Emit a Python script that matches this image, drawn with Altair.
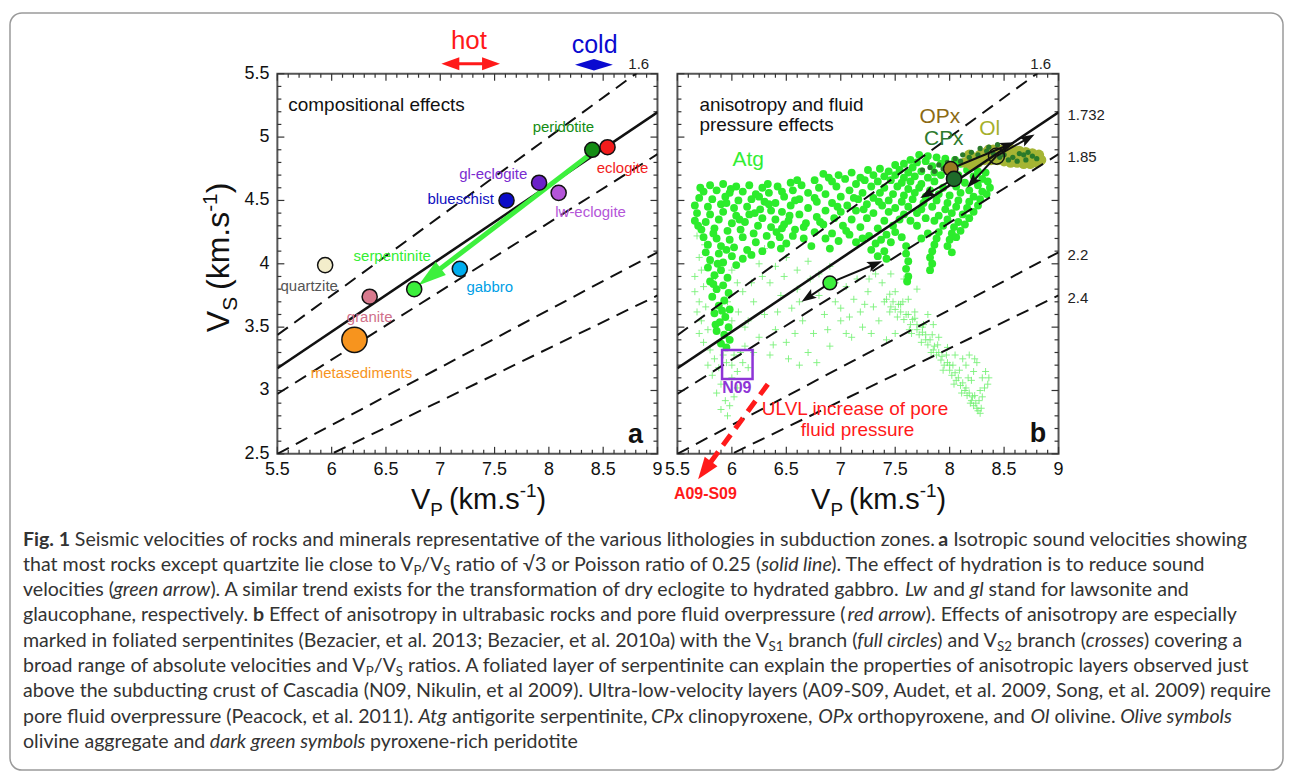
import math
import os
import struct
import altair as alt
import pandas as pd
import numpy as np

# ------------------------------------------------------------------ data
ratios = [1.6, 1.732, 1.85, 2.2, 2.4]
ratio_labels = ["1.6", "1.732", "1.85", "2.2", "2.4"]
ratio_dashed = [True, False, True, True, True]

x_tick_labels = ["5.5", "6", "6.5", "7", "7.5", "8", "8.5", "9"]
y_tick_labels = ["2.5", "3", "3.5", "4", "4.5", "5", "5.5"]

rock_names = ["quartzite", "granite", "metasediments", "serpentinite", "gabbro",
              "blueschist", "gl-eclogite", "lw-eclogite", "peridotite", "eclogite"]
rock_vp = [5.94, 6.35, 6.21, 6.76, 7.18, 7.61, 7.91, 8.09, 8.40, 8.54]
rock_vs = [3.99, 3.74, 3.40, 3.80, 3.96, 4.50, 4.64, 4.56, 4.90, 4.92]

hydration_arrow_vp = [8.36, 6.80]
hydration_arrow_vs = [4.85, 3.83]
hot_range = [7.01, 7.55]
cold_range = [8.24, 8.59]

# panel b : antigorite Vs1 branch (full circles), (Vp, Vs)
atg_vs1_points = [
    # dense upper-right cluster
    (7.72, 4.86), (7.80, 4.85), (7.88, 4.84), (7.64, 4.82), (7.70, 4.80), (7.78, 4.81), (7.96, 4.83),
    (8.05, 4.82), (7.50, 4.78), (7.58, 4.79), (7.66, 4.76), (7.84, 4.77), (7.92, 4.79), (8.10, 4.79),
    (8.20, 4.77), (7.25, 4.74), (7.36, 4.75), (7.44, 4.73), (7.54, 4.74), (7.62, 4.72), (7.74, 4.73),
    (7.86, 4.72), (8.16, 4.74), (8.26, 4.73), (8.33, 4.72), (7.30, 4.70), (7.40, 4.69), (7.50, 4.70),
    (7.58, 4.68), (7.68, 4.69), (7.80, 4.68), (7.92, 4.70), (8.08, 4.70), (8.22, 4.69), (8.30, 4.67),
    (7.22, 4.66), (7.34, 4.65), (7.46, 4.66), (7.56, 4.64), (7.64, 4.65), (7.74, 4.63), (7.86, 4.65),
    (8.02, 4.66), (8.14, 4.64), (8.26, 4.62), (7.28, 4.61), (7.40, 4.60), (7.52, 4.61), (7.62, 4.59),
    (7.72, 4.60), (7.82, 4.58), (7.94, 4.60), (8.06, 4.61), (8.18, 4.58), (8.30, 4.57), (7.36, 4.56),
    (7.48, 4.55), (7.58, 4.54), (7.68, 4.56), (7.78, 4.53), (7.90, 4.55), (8.00, 4.54), (8.10, 4.56),
    (8.22, 4.53), (7.44, 4.50), (7.56, 4.49), (7.66, 4.51), (7.76, 4.48), (7.88, 4.50), (7.98, 4.48),
    (8.08, 4.50), (8.18, 4.49), (8.28, 4.51), (7.50, 4.44), (7.62, 4.45), (7.74, 4.43), (7.84, 4.45),
    (7.96, 4.43), (8.06, 4.45), (8.16, 4.44), (8.26, 4.46), (7.58, 4.39), (7.70, 4.40), (7.90, 4.38),
    (8.02, 4.40), (8.12, 4.39), (8.22, 4.41), (7.64, 4.34), (7.86, 4.34), (7.98, 4.35), (8.08, 4.33),
    (8.18, 4.36), (7.94, 4.30), (8.04, 4.29), (8.14, 4.31), (7.90, 4.25), (8.02, 4.24), (8.10, 4.26),
    (7.88, 4.20), (8.00, 4.19), (8.06, 4.21), (7.86, 4.15), (7.98, 4.14), (7.84, 4.10), (8.02, 4.09),
    (7.82, 4.05), (7.84, 4.00), (7.82, 3.95), (8.35, 4.65), (8.37, 4.60), (8.34, 4.55),
    (7.70, 4.30), (7.78, 4.36), (7.80, 4.24), (7.74, 4.20),
    # middle band
    (6.84, 4.71), (6.98, 4.70), (7.10, 4.72), (7.18, 4.68), (6.76, 4.66), (6.92, 4.65), (7.04, 4.67),
    (7.14, 4.63), (6.64, 4.62), (6.80, 4.60), (6.96, 4.61), (7.08, 4.58), (7.20, 4.56), (6.56, 4.58),
    (6.70, 4.56), (6.86, 4.55), (7.00, 4.53), (7.16, 4.51), (7.30, 4.52), (6.48, 4.53), (6.62, 4.51),
    (6.78, 4.49), (6.92, 4.48), (7.06, 4.46), (7.24, 4.47), (7.38, 4.46), (6.40, 4.48), (6.54, 4.46),
    (6.70, 4.44), (6.86, 4.42), (7.00, 4.41), (7.14, 4.42), (7.30, 4.40), (7.44, 4.41), (6.46, 4.41),
    (6.62, 4.39), (6.78, 4.37), (6.94, 4.36), (7.10, 4.35), (7.24, 4.36), (7.40, 4.34), (7.54, 4.35),
    (6.52, 4.34), (6.68, 4.32), (6.84, 4.31), (7.02, 4.30), (7.18, 4.29), (7.34, 4.28), (7.48, 4.30),
    (6.58, 4.27), (6.76, 4.25), (6.92, 4.24), (7.08, 4.23), (7.26, 4.22), (7.42, 4.23), (7.56, 4.21),
    (6.66, 4.20), (6.98, 4.18), (7.14, 4.17), (7.32, 4.16), (7.46, 4.17), (6.90, 4.12), (7.28, 4.11),
    (7.40, 4.10), (7.60, 4.14), (7.34, 4.06), (7.42, 4.04), (7.60, 4.08), (7.62, 4.02), (7.60, 3.96),
    (7.62, 3.90), (7.61, 3.86),
    (6.60, 4.66), (6.89, 4.68), (6.53, 4.38), (6.81, 4.33), (7.05, 4.26), (6.66, 4.29), (6.97, 4.45),
    (7.21, 4.43), (6.58, 4.50), (7.12, 4.52), (7.35, 4.49), (6.76, 4.52), (6.86, 4.20), (7.20, 4.20),
    (7.50, 4.25), (7.37, 4.19), (6.73, 4.14), (6.45, 4.12),
    # left block
    (5.80, 4.62), (5.92, 4.63), (6.04, 4.61), (6.16, 4.62), (6.28, 4.60), (6.42, 4.61), (6.54, 4.64),
    (5.74, 4.57), (5.86, 4.58), (5.98, 4.56), (6.10, 4.57), (6.22, 4.55), (6.34, 4.56), (6.46, 4.57),
    (5.70, 4.52), (5.82, 4.51), (5.94, 4.53), (6.06, 4.50), (6.18, 4.51), (6.30, 4.49), (5.66, 4.46),
    (5.78, 4.45), (5.90, 4.47), (6.02, 4.44), (6.14, 4.45), (6.26, 4.43), (6.36, 4.42), (5.68, 4.40),
    (5.80, 4.39), (5.92, 4.41), (6.04, 4.38), (6.16, 4.39), (6.28, 4.36), (6.40, 4.35), (5.66, 4.34),
    (5.76, 4.33), (5.88, 4.35), (6.00, 4.32), (6.12, 4.33), (6.24, 4.30), (6.36, 4.29), (6.46, 4.28),
    (5.72, 4.27), (5.84, 4.28), (5.96, 4.26), (6.08, 4.27), (6.20, 4.24), (6.32, 4.22), (6.44, 4.21),
    (6.56, 4.22), (5.74, 4.21), (5.86, 4.20), (5.98, 4.19), (6.10, 4.21), (6.22, 4.17), (6.36, 4.15),
    (6.50, 4.16), (5.78, 4.15), (5.90, 4.14), (6.02, 4.13), (6.14, 4.11), (6.28, 4.10), (5.76, 4.09),
    (5.88, 4.08), (6.00, 4.06), (6.10, 4.04), (5.80, 4.03), (5.92, 4.01), (6.04, 3.99),
    (5.71, 4.60), (6.33, 4.63), (5.95, 4.48), (6.21, 4.40), (5.83, 4.24), (6.41, 4.25), (5.69, 4.30),
    (6.07, 4.35), (6.34, 4.47), (5.99, 4.59), (6.25, 4.53), (6.48, 4.31), (6.18, 4.07), (5.95, 4.11),
    # left column
    (5.78, 3.97), (5.90, 3.95), (5.84, 3.91), (5.96, 3.89), (5.80, 3.86), (5.92, 3.83), (5.86, 3.80),
    (5.97, 3.77), (5.82, 3.74), (5.93, 3.71), (5.88, 3.67), (5.98, 3.64), (5.84, 3.61), (5.94, 3.58),
    (5.89, 3.54), (5.97, 3.50), (5.86, 3.47), (5.93, 3.44), (5.98, 3.40), (5.90, 3.37), (5.95, 3.34),
    (5.87, 4.00), (5.83, 3.84), (5.91, 3.63), (5.85, 3.52),
]

# antigorite Vs2 branch (crosses), (Vp, Vs)
atg_vs2_points = [
    (5.66, 3.78), (5.70, 3.70), (5.74, 3.82), (5.68, 3.62), (5.72, 3.55), (5.76, 3.66), (5.78, 3.48),
    (5.70, 3.45), (5.74, 3.38), (5.80, 3.32), (5.84, 3.25), (5.78, 3.20), (5.82, 3.12), (5.88, 3.18),
    (5.90, 3.05), (5.86, 2.98), (5.94, 2.92), (5.90, 2.85), (5.98, 2.88), (5.96, 2.80), (6.02, 2.95),
    (6.05, 3.02), (6.00, 3.10), (5.95, 3.22), (6.05, 3.15), (6.10, 3.22), (6.15, 3.18), (6.08, 3.30),
    (6.02, 3.28), (5.98, 3.40), (6.12, 3.35), (5.70, 4.05), (5.75, 4.15), (5.68, 4.22), (5.80, 4.00),
    (5.72, 3.95), (5.66, 3.90), (5.85, 3.90), (6.00, 3.95), (6.05, 3.85), (6.10, 3.78), (5.96, 3.70),
    (6.06, 3.62), (6.00, 3.55), (6.12, 3.50), (5.92, 3.28), (6.00, 3.20),
    (6.15, 4.08), (6.25, 4.00), (6.30, 4.12), (6.40, 3.98), (6.50, 4.05), (6.60, 3.95), (6.70, 4.02),
    (6.80, 3.92), (6.90, 3.98), (6.35, 3.85), (6.45, 3.75), (6.20, 3.70), (6.30, 3.60), (6.55, 3.65),
    (6.65, 3.55), (6.40, 3.48), (6.25, 3.42), (6.50, 3.38), (6.75, 3.45), (6.85, 3.60), (6.95, 3.70),
    (6.60, 3.80), (6.20, 3.30), (6.35, 3.28), (6.70, 3.30), (6.90, 3.35), (6.15, 3.55), (6.80, 3.75),
    (7.00, 3.55), (7.05, 3.45),
    (6.28, 3.90), (6.42, 3.62), (6.58, 3.45), (6.62, 3.70), (6.72, 3.88), (6.88, 3.48), (6.95, 3.85),
    (7.08, 3.58), (7.22, 3.68), (7.26, 3.88), (6.18, 3.85), (6.48, 3.90), (6.38, 3.36), (6.62, 3.20),
    (6.78, 3.22), (6.52, 3.25),
    (7.05, 3.82), (7.12, 3.72), (7.18, 3.62), (7.25, 3.78), (7.30, 3.66), (7.35, 3.55), (7.20, 3.50),
    (7.28, 3.45), (7.40, 3.70), (7.45, 3.62), (7.38, 3.85), (7.50, 3.78), (7.55, 3.68), (7.62, 3.72),
    (7.68, 3.62), (7.70, 3.80), (7.58, 3.88), (7.46, 3.92), (7.32, 3.92), (7.15, 3.88), (7.75, 3.50),
    (7.80, 3.60), (7.65, 3.45), (7.50, 3.45), (7.42, 3.40), (7.10, 3.42), (7.00, 3.65), (7.85, 3.52),
    (7.90, 3.42),
    (7.42, 3.72), (7.48, 3.70), (7.50, 3.64), (7.55, 3.62), (7.58, 3.56), (7.60, 3.60), (7.64, 3.52),
    (7.66, 3.56), (7.70, 3.48), (7.72, 3.44), (7.75, 3.46), (7.78, 3.40), (7.80, 3.36), (7.82, 3.40),
    (7.85, 3.32), (7.88, 3.28), (7.90, 3.30), (7.92, 3.24), (7.95, 3.20), (7.98, 3.22), (8.00, 3.16),
    (8.02, 3.12), (8.05, 3.14), (8.06, 3.08), (8.10, 3.04), (8.12, 3.06), (8.14, 3.00), (8.16, 2.96),
    (8.18, 2.98), (8.20, 2.92), (8.22, 2.88), (8.24, 2.90), (8.26, 2.84), (8.28, 2.82), (8.25, 2.86),
    (8.21, 2.95), (8.15, 3.02), (8.08, 3.10), (8.00, 3.20), (7.93, 3.27), (7.86, 3.35), (7.78, 3.44),
    (7.70, 3.52), (7.62, 3.60), (7.53, 3.68), (7.45, 3.76),
    (7.46, 3.66), (7.52, 3.58), (7.57, 3.70), (7.63, 3.48), (7.68, 3.57), (7.74, 3.38), (7.76, 3.52),
    (7.83, 3.30), (7.84, 3.44), (7.89, 3.36), (7.94, 3.16), (7.97, 3.28), (8.03, 3.20), (8.04, 3.05),
    (8.09, 3.16), (8.11, 2.98), (8.17, 3.10), (8.19, 2.90), (8.23, 2.96), (8.27, 2.92), (8.29, 2.86),
    (8.32, 3.02), (8.36, 3.10), (8.23, 3.25), (8.18, 3.28),
    (8.15, 3.20), (8.22, 3.15), (8.30, 3.10), (8.35, 3.05), (8.28, 3.00), (8.20, 3.08), (8.33, 3.15),
    (8.25, 3.22), (8.12, 3.25), (8.05, 3.28), (7.98, 3.34), (8.30, 2.95),
]

# olivine aggregate (olive symbols)
ol_points = [
    (8.22, 4.84), (8.28, 4.86), (8.34, 4.88), (8.40, 4.90), (8.46, 4.90), (8.52, 4.90), (8.58, 4.90),
    (8.64, 4.89), (8.70, 4.88), (8.76, 4.87), (8.82, 4.86), (8.84, 4.82), (8.80, 4.80), (8.74, 4.79),
    (8.68, 4.79), (8.62, 4.80), (8.56, 4.80), (8.50, 4.81), (8.44, 4.82), (8.38, 4.82), (8.32, 4.82),
    (8.26, 4.80), (8.20, 4.78), (8.30, 4.85), (8.42, 4.86), (8.55, 4.85), (8.67, 4.84), (8.78, 4.84),
    (8.36, 4.90), (8.48, 4.87), (8.60, 4.86), (8.72, 4.83), (8.14, 4.80), (8.18, 4.86),
]
# pyroxene-rich peridotite (dark green symbols)
px_points = [
    (7.75, 4.74), (7.82, 4.76), (7.90, 4.78), (7.98, 4.80), (8.05, 4.83), (8.12, 4.86), (8.20, 4.88),
    (8.28, 4.91), (8.36, 4.92), (8.44, 4.94), (7.86, 4.73), (7.94, 4.75), (8.02, 4.78), (8.10, 4.81),
    (8.18, 4.84), (8.26, 4.86), (8.34, 4.89), (8.50, 4.86), (8.58, 4.84), (8.64, 4.87), (8.70, 4.82),
    (8.76, 4.85), (8.54, 4.82), (8.62, 4.81), (8.68, 4.86), (8.46, 4.84), (8.80, 4.83), (8.40, 4.87),
    (8.72, 4.88),
]

mineral_names = ["Atg", "OPx", "CPx", "Ol"]
mineral_vp = [6.90, 8.01, 8.04, 8.43]
mineral_vs = [3.85, 4.75, 4.67, 4.85]

aniso_arrows = [
    (6.90, 3.85, 7.38, 4.02),
    (6.90, 3.85, 6.64, 3.70),
    (8.01, 4.75, 8.60, 4.96),
    (8.43, 4.85, 8.78, 5.02),
    (8.04, 4.67, 7.73, 4.52),
    (8.43, 4.85, 8.16, 4.60),
]

n09_box = (5.91, 6.19, 3.09, 3.32)
ulvl_arrow = (6.33, 3.05, 5.69, 2.30)

caption_segments = [
    [("Fig. 1", "b"), (" Seismic velocities of rocks and minerals representative of the various lithologies in subduction zones. ", "n"),
     ("a", "b"), (" Isotropic sound velocities showing", "n")],
    [("that most rocks except quartzite lie close to V", "n"), ("P", "sub"), ("/V", "n"), ("S", "sub"),
     (" ratio of \u221a3 or Poisson ratio of 0.25 (", "n"), ("solid line", "i"),
     ("). The effect of hydration is to reduce sound", "n")],
    [("velocities (", "n"), ("green arrow", "i"),
     ("). A similar trend exists for the transformation of dry eclogite to hydrated gabbro. ", "n"),
     ("Lw", "i"), (" and ", "n"), ("gl", "i"), (" stand for lawsonite and", "n")],
    [("glaucophane, respectively. ", "n"), ("b", "b"),
     (" Effect of anisotropy in ultrabasic rocks and pore fluid overpressure (", "n"), ("red arrow", "i"),
     ("). Effects of anisotropy are especially", "n")],
    [("marked in foliated serpentinites (Bezacier, et al. 2013; Bezacier, et al. 2010a) with the V", "n"),
     ("S1", "sub"), (" branch (", "n"), ("full circles", "i"), (") and V", "n"), ("S2", "sub"),
     (" branch (", "n"), ("crosses", "i"), (") covering a", "n")],
    [("broad range of absolute velocities and V", "n"), ("P", "sub"), ("/V", "n"), ("S", "sub"),
     (" ratios. A foliated layer of serpentinite can explain the properties of anisotropic layers observed just", "n")],
    [("above the subducting crust of Cascadia (N09, Nikulin, et al 2009). Ultra-low-velocity layers (A09-S09, Audet, et al. 2009, Song, et al. 2009) require", "n")],
    [("pore fluid overpressure (Peacock, et al. 2011). ", "n"), ("Atg", "i"), (" antigorite serpentinite, ", "n"),
     ("CPx", "i"), (" clinopyroxene, ", "n"), ("OPx", "i"), (" orthopyroxene, and ", "n"), ("Ol", "i"),
     (" olivine. ", "n"), ("Olive symbols", "i")],
    [("olivine aggregate and ", "n"), ("dark green symbols", "i"), (" pyroxene-rich peridotite", "n")],
]

# ------------------------------------------------------------------ font metrics (layout only)
_FONT_FILES = {}
for _d in ["/usr/share/fonts", "/usr/local/share/fonts",
           os.path.expanduser("~/.fonts"), os.path.expanduser("~/.local/share/fonts")]:
    if os.path.isdir(_d):
        for _root, _dirs, _files in os.walk(_d):
            for _f in _files:
                _FONT_FILES.setdefault(_f.lower(), os.path.join(_root, _f))


class Metrics:
    def __init__(self, names, fallback):
        self.ok = False
        self.fallback = fallback
        for n in names:
            p = _FONT_FILES.get(n.lower())
            if p:
                try:
                    self._load(p)
                    self.ok = True
                    break
                except Exception:
                    self.ok = False

    def _load(self, path):
        with open(path, "rb") as fh:
            data = fh.read()
        off = 0
        if data[:4] == b"ttcf":
            off = struct.unpack(">I", data[12:16])[0]
        n = struct.unpack(">H", data[off + 4:off + 6])[0]
        tables = {}
        for i in range(n):
            t, _cs, o, _l = struct.unpack(">4sIII", data[off + 12 + 16 * i: off + 28 + 16 * i])
            tables[t] = o
        h = tables[b"head"]
        self.upem = struct.unpack(">H", data[h + 18:h + 20])[0]
        hh = tables[b"hhea"]
        nh = struct.unpack(">H", data[hh + 34:hh + 36])[0]
        hm = tables[b"hmtx"]
        self.adv = list(struct.unpack(">" + "Hh" * nh, data[hm:hm + 4 * nh]))[0::2]
        cm = tables[b"cmap"]
        ns = struct.unpack(">H", data[cm + 2:cm + 4])[0]
        sub = None
        for i in range(ns):
            pid, eid, so = struct.unpack(">HHI", data[cm + 4 + 8 * i: cm + 12 + 8 * i])
            fmt = struct.unpack(">H", data[cm + so:cm + so + 2])[0]
            if fmt == 4 and (pid == 0 or (pid == 3 and eid == 1)):
                sub = cm + so
                if pid == 3:
                    break
        if sub is None:
            raise ValueError("no cmap")
        o = sub
        segx2 = struct.unpack(">H", data[o + 6:o + 8])[0]
        k = segx2 // 2
        ends = struct.unpack(">%dH" % k, data[o + 14:o + 14 + segx2])
        starts = struct.unpack(">%dH" % k, data[o + 16 + segx2:o + 16 + 2 * segx2])
        deltas = struct.unpack(">%dh" % k, data[o + 16 + 2 * segx2:o + 16 + 3 * segx2])
        rp = o + 16 + 3 * segx2
        ros = struct.unpack(">%dH" % k, data[rp:rp + segx2])
        self.cmap = {}
        for i in range(k):
            s, e = starts[i], min(ends[i], 0x2400)
            for c in range(s, e + 1):
                if c == 0xFFFF:
                    continue
                if ros[i] == 0:
                    g = (c + deltas[i]) & 0xFFFF
                else:
                    addr = rp + 2 * i + ros[i] + 2 * (c - s)
                    g = struct.unpack(">H", data[addr:addr + 2])[0]
                    if g:
                        g = (g + deltas[i]) & 0xFFFF
                self.cmap[c] = g

    def width(self, text, size):
        if not self.ok:
            return self.fallback * size * len(text)
        tot = 0
        for ch in text:
            g = self.cmap.get(ord(ch), 0)
            tot += self.adv[g] if g < len(self.adv) else self.adv[-1]
        return tot * size / self.upem


CAP_FONT = "Lato"
AX_FONT = "Liberation Sans"
M_CAP = {"n": Metrics(["Lato-Regular.ttf"], 0.43),
         "b": Metrics(["Lato-Bold.ttf", "Lato-Black.ttf"], 0.45),
         "i": Metrics(["Lato-Italic.ttf", "Lato-Regular.ttf"], 0.42)}
M_CAP["sub"] = M_CAP["n"]
M_AX = Metrics(["LiberationSans-Regular.ttf"], 0.55)
KERN = 0.993  # rendered / unkerned advance width

# ------------------------------------------------------------------ styling
W_A, W_B, H = 381, 382, 381
XDOM, YDOM = [5.5, 9.0], [2.5, 5.5]
PY = H / 3.0

rock_fill = ["#F3EDCB", "#D87A8E", "#F7941E", "#3BEF3B", "#00AEEF",
             "#0B0BC8", "#6B21C8", "#B455D8", "#148C14", "#F21C1C"]
rock_text = ["#555555", "#D0708A", "#F7941E", "#33EE33", "#00A0E6",
             "#1010C0", "#7A2CD0", "#B455D8", "#148C14", "#F21C1C"]
rock_size = [230, 230, 640, 230, 230, 230, 230, 230, 230, 230]
rock_label_dx = [-16, 0, 7, -22, 30, -46, -46, 32, -29, 15]
rock_label_dy = [21, 20, 33, -33, 18, -1, -9, 19, -23, 21]

HEAD_NOTCH = "M0,0L-2,-0.7L-1.6,0L-2,0.7Z"
HEAD_TRI = "M0,0L-2,-0.6L-2,0.6Z"
HEAD_WIDE = "M0,0L-2,-0.72L-2,0.72Z"
DIAMOND = "M-1,0L0,-0.3L1,0L0,0.3Z"
CROSS = "M-1,0L1,0M0,-1L0,1"


def sx():
    return alt.Scale(domain=XDOM, nice=False, zero=False)


def sy():
    return alt.Scale(domain=YDOM, nice=False, zero=False)


def X(f="vp"):
    return alt.X(f"{f}:Q", scale=sx(), axis=None)


def Y(f="vs"):
    return alt.Y(f"{f}:Q", scale=sy(), axis=None)


def ptext(txt, x, y, size, color="#111111", weight="normal", style="normal",
          align="left", baseline="alphabetic", font=AX_FONT, angle=None):
    kw = dict(align=align, baseline=baseline, fontSize=size, font=font, color=color,
              fontWeight=weight, fontStyle=style)
    if angle is not None:
        kw["angle"] = angle
    return alt.Chart(pd.DataFrame({"t": [txt]})).mark_text(**kw).encode(
        x=alt.value(x), y=alt.value(y), text="t:N")


def arrow(vp0, vs0, vp1, vs1, pxx, color, width, head_len, head_path, dash=None):
    dxp = (vp1 - vp0) * pxx
    dyp = -(vs1 - vs0) * PY
    L = math.hypot(dxp, dyp)
    ang = math.degrees(math.atan2(dyp, dxp)) % 360
    f = max(0.0, (L - 0.75 * head_len) / L)
    ex, ey = vp0 + (vp1 - vp0) * f, vs0 + (vs1 - vs0) * f
    kw = dict(color=color, strokeWidth=width, strokeCap="butt")
    if dash:
        kw["strokeDash"] = dash
    shaft = alt.Chart(pd.DataFrame({"vp": [vp0, ex], "vs": [vs0, ey], "o": [0, 1]})).mark_line(
        **kw).encode(x=X(), y=Y(), order="o:Q")
    head = alt.Chart(pd.DataFrame({"vp": [vp1], "vs": [vs1]})).mark_point(
        shape=head_path, size=head_len ** 2, filled=True, color=color, opacity=1,
        angle=ang, strokeWidth=0).encode(x=X(), y=Y())
    return [shaft, head]


def frame_ticks(W, show_y_labels):
    layers = []
    xs_all = np.round(np.arange(5.5, 9.0001, 0.1), 1)
    ys_all = np.round(np.arange(2.5, 5.5001, 0.1), 1)
    x_major = [float(v) for v in x_tick_labels]
    y_major = [float(v) for v in y_tick_labels]
    x_minor = [float(v) for v in xs_all if min(abs(v - m) for m in x_major) > 1e-6]
    y_minor = [float(v) for v in ys_all if min(abs(v - m) for m in y_major) > 1e-6]
    for vals, ln in [(x_major, 7), (x_minor, 4)]:
        base = alt.Chart(pd.DataFrame({"vp": vals})).mark_rule(color="#333333", strokeWidth=1.2)
        layers.append(base.encode(x=X(), y=alt.value(H), y2=alt.value(H - ln)))
        layers.append(base.encode(x=X(), y=alt.value(0), y2=alt.value(ln)))
    for vals, ln in [(y_major, 7), (y_minor, 4)]:
        base = alt.Chart(pd.DataFrame({"vs": vals})).mark_rule(color="#333333", strokeWidth=1.2)
        layers.append(base.encode(y=Y(), x=alt.value(0), x2=alt.value(ln)))
        layers.append(base.encode(y=Y(), x=alt.value(W), x2=alt.value(W - ln)))
    layers.append(alt.Chart(pd.DataFrame({"vp": x_major, "t": x_tick_labels})).mark_text(
        font=AX_FONT, fontSize=18, align="center", baseline="alphabetic", color="#111111").encode(
        x=X(), y=alt.value(H + 21), text="t:N"))
    if show_y_labels:
        layers.append(alt.Chart(pd.DataFrame({"vs": y_major, "t": y_tick_labels})).mark_text(
            font=AX_FONT, fontSize=18, align="right", baseline="middle", color="#111111").encode(
            y=Y(), x=alt.value(-8), text="t:N"))
    return layers


def ratio_lines():
    rows = []
    for r, d in zip(ratios, ratio_dashed):
        for vp in XDOM:
            rows.append({"vp": vp, "vs": vp / r, "r": str(r), "d": d})
    df = pd.DataFrame(rows)
    dashed = alt.Chart(df[df.d]).mark_line(color="#111111", strokeWidth=2, strokeDash=[13, 8],
                                           clip=True).encode(x=X(), y=Y(), detail="r:N")
    solid = alt.Chart(df[~df.d]).mark_line(color="#111111", strokeWidth=2.6, clip=True).encode(
        x=X(), y=Y(), detail="r:N")
    return [dashed, solid]


def title_parts(sub_letter, big, small, sub_dy, sup_dy, gap):
    parts = [("V", big, 0), (sub_letter, small, sub_dy), ("(km.s", big, 0), ("-1", small, sup_dy), (")", big, 0)]
    out, pos = [], 0.0
    for i, (t, s, d) in enumerate(parts):
        if i == 2:
            pos += gap
        out.append((t, s, pos, d))
        pos += M_AX.width(t, s)
    return out


def x_title(x0, base):
    return [ptext(t, x0 + p, base + d, s, color="#111111")
            for t, s, p, d in title_parts("P", 29, 19, 7, -12, 6)]


def y_title(bx, by):
    return [ptext(t, bx + d, by - p, s, color="#111111", angle=270)
            for t, s, p, d in title_parts("S", 32, 21, 8, -13, 7)]


def caption_layers(x0, y0, step):
    ref_line = caption_segments[6][0][0]
    w17 = M_CAP["n"].width(ref_line, 17)
    size = 17 * 1248.0 / (w17 * KERN) if M_CAP["n"].ok else 19.5
    layers = []
    for k, segs in enumerate(caption_segments):
        pos = 0.0
        base = y0 + k * step
        for txt, st in segs:
            s = size * 0.68 if st == "sub" else size
            m = M_CAP[st]
            lead = len(txt) - len(txt.lstrip(" "))
            shown = txt.strip(" ")
            if shown:
                layers.append(ptext(shown, x0 + pos + KERN * m.width(" " * lead, s),
                                    base + (size * 0.22 if st == "sub" else 0),
                                    s, color="#333333", font=CAP_FONT,
                                    weight="bold" if st == "b" else "normal",
                                    style="italic" if st == "i" else "normal"))
            pos += KERN * m.width(txt, s)
    return layers


# ------------------------------------------------------------------ panel a
PXA = W_A / 3.5
la = []
la.append(alt.Chart(pd.DataFrame({"k": [0]})).mark_rect(
    fill="white", fillOpacity=0, stroke="#9A9A9A", strokeWidth=1.5, cornerRadius=12).encode(
    x=alt.value(-268), x2=alt.value(1008), y=alt.value(-61), y2=alt.value(698)))
la += frame_ticks(W_A, True)
la += ratio_lines()
la += arrow(hydration_arrow_vp[0], hydration_arrow_vs[0], hydration_arrow_vp[1], hydration_arrow_vs[1],
            PXA, "#3DF03D", 5, 28, HEAD_TRI)
rocks = pd.DataFrame({"vp": rock_vp, "vs": rock_vs, "fill": rock_fill, "sz": rock_size})
la.append(alt.Chart(rocks).mark_circle(stroke="#111111", strokeWidth=1.5, opacity=1).encode(
    x=X(), y=Y(), color=alt.Color("fill:N", scale=None), size=alt.Size("sz:Q", scale=None)))
lab = pd.DataFrame({
    "vp": [v + dx / PXA for v, dx in zip(rock_vp, rock_label_dx)],
    "vs": [v - dy / PY for v, dy in zip(rock_vs, rock_label_dy)],
    "t": rock_names, "c": rock_text})
la.append(alt.Chart(lab).mark_text(font=AX_FONT, fontSize=15, align="center", baseline="middle").encode(
    x=X(), y=Y(), text="t:N", color=alt.Color("c:N", scale=None)))
la.append(ptext("compositional effects", 11, 31, 19, baseline="middle"))
la.append(ptext("a", 359, 370, 27, weight="bold", align="center"))
hot = pd.DataFrame({"vp": [hot_range[0] + 0.12, hot_range[1] - 0.12]})
la.append(alt.Chart(hot).mark_line(color="#FF1A1A", strokeWidth=3).encode(x=X(), y=alt.value(-10)))
la.append(alt.Chart(pd.DataFrame({"vp": [hot_range[1]]})).mark_point(
    shape=HEAD_WIDE, size=324, filled=True, color="#FF1A1A", opacity=1).encode(x=X(), y=alt.value(-10)))
la.append(alt.Chart(pd.DataFrame({"vp": [hot_range[0]]})).mark_point(
    shape=HEAD_WIDE, size=324, filled=True, color="#FF1A1A", opacity=1, angle=180).encode(
    x=X(), y=alt.value(-10)))
la.append(alt.Chart(pd.DataFrame({"vp": [(cold_range[0] + cold_range[1]) / 2]})).mark_point(
    shape=DIAMOND, size=(38 ** 2), filled=True, color="#0A0AD0", opacity=1).encode(
    x=X(), y=alt.value(-9)))
la.append(ptext("hot", 192, -25, 26, color="#FF1A1A", align="center"))
la.append(ptext("cold", 318, -21, 25, color="#0A0AD0", align="center"))
la.append(alt.Chart(pd.DataFrame({"vp": [5.5 * ratios[0]], "t": [ratio_labels[0]]})).mark_text(
    font=AX_FONT, fontSize=15, align="center", baseline="middle", dx=3, color="#222222").encode(
    x=X(), y=alt.value(-10), text="t:N"))
la += x_title(134, 436)
la += y_title(-48, 259)
la += caption_layers(-255, 473, 25.33)

panel_a = alt.layer(*la).properties(width=W_A, height=H)

# ------------------------------------------------------------------ panel b
PXB = W_B / 3.5
lb = []
lb += frame_ticks(W_B, False)
vs2 = pd.DataFrame({"vp": [p[0] for p in atg_vs2_points], "vs": [p[1] for p in atg_vs2_points]})
lb.append(alt.Chart(vs2).mark_point(shape=CROSS, size=49, filled=False, color="#6CF06C",
                                    strokeWidth=0.9, opacity=0.9).encode(x=X(), y=Y()))
vs1 = pd.DataFrame({"vp": [p[0] for p in atg_vs1_points], "vs": [p[1] for p in atg_vs1_points]})
lb.append(alt.Chart(vs1).mark_circle(size=62, color="#2CEC2C", opacity=1).encode(x=X(), y=Y()))
ol = pd.DataFrame({"vp": [p[0] for p in ol_points], "vs": [p[1] for p in ol_points]})
lb.append(alt.Chart(ol).mark_circle(size=110, color="#A5B534", opacity=1).encode(x=X(), y=Y()))
px = pd.DataFrame({"vp": [p[0] for p in px_points], "vs": [p[1] for p in px_points]})
lb.append(alt.Chart(px).mark_circle(size=28, color="#2A7A2A", opacity=1).encode(x=X(), y=Y()))
lb += ratio_lines()
for a in aniso_arrows:
    lb += arrow(*a, PXB, "#111111", 2, 15, HEAD_NOTCH)
mins = pd.DataFrame({"vp": mineral_vp, "vs": mineral_vs,
                     "fill": ["#3BEF3B", "#9A7B22", "#1E6B2A", "#A5B534"], "sz": [190, 210, 230, 260]})
lb.append(alt.Chart(mins.iloc[:3]).mark_circle(stroke="#111111", strokeWidth=1.5, opacity=1).encode(
    x=X(), y=Y(), color=alt.Color("fill:N", scale=None), size=alt.Size("sz:Q", scale=None)))
lb.append(alt.Chart(mins.iloc[3:]).mark_point(shape="circle", filled=False, color="#111111",
                                              strokeWidth=1.5, opacity=1).encode(
    x=X(), y=Y(), size=alt.Size("sz:Q", scale=None)))
lb.append(alt.Chart(pd.DataFrame({"x0": [n09_box[0]], "x1": [n09_box[1]], "y0": [n09_box[2]], "y1": [n09_box[3]]}))
          .mark_rect(fill="white", fillOpacity=0, stroke="#8E35D6", strokeWidth=2.5).encode(
    x=alt.X("x0:Q", scale=sx(), axis=None), x2="x1:Q",
    y=alt.Y("y0:Q", scale=sy(), axis=None), y2="y1:Q"))
lb += arrow(*ulvl_arrow, PXB, "#FF1A1A", 5, 22, HEAD_WIDE, dash=[13, 8])
rl = pd.DataFrame({"vs": [9.0 / r for r in ratios[1:]], "t": ratio_labels[1:]})
lb.append(alt.Chart(rl).mark_text(font=AX_FONT, fontSize=15, align="left", baseline="middle", dy=3,
                                  color="#222222").encode(y=Y(), x=alt.value(W_B + 9), text="t:N"))
lb.append(alt.Chart(pd.DataFrame({"vp": [5.5 * ratios[0]], "t": [ratio_labels[0]]})).mark_text(
    font=AX_FONT, fontSize=15, align="center", baseline="middle", dx=4, color="#222222").encode(
    x=X(), y=alt.value(-10), text="t:N"))
lb.append(ptext("anisotropy and fluid", 22, 31, 19, baseline="middle"))
lb.append(ptext("pressure effects", 22, 51, 19, baseline="middle"))
lb.append(ptext("OPx", 263, 43, 21, color="#8B6A14", align="center", baseline="middle"))
lb.append(ptext("CPx", 267, 65, 21, color="#2D7A2D", align="center", baseline="middle"))
lb.append(ptext("Ol", 313, 55, 21, color="#A5B02A", align="center", baseline="middle"))
lb.append(ptext("Atg", 71, 86, 21, color="#33EE33", align="center", baseline="middle"))
lb.append(ptext("N09", 59.5, 315, 16, color="#8E35D6", weight="bold", align="center", baseline="middle"))
lb.append(ptext("A09-S09", 28, 421, 16, color="#FF1A1A", weight="bold", align="center", baseline="middle"))
lb.append(ptext("ULVL increase of pore", 178, 336, 19, color="#FF1A1A", align="center", baseline="middle"))
lb.append(ptext("fluid pressure", 180.5, 357, 19, color="#FF1A1A", align="center", baseline="middle"))
lb.append(ptext("b", 361.5, 369, 27, weight="bold", align="center"))
lb += x_title(134, 436)

panel_b = alt.layer(*lb).properties(width=W_B, height=H)

chart = alt.hconcat(panel_a, panel_b, spacing=20, bounds="flush").properties(
    padding={"left": 0, "top": 2, "right": 0, "bottom": 0}
).configure_view(stroke="#555555", strokeWidth=2)

chart.save("out.html", embed_options={"renderer": "svg", "actions": False})
